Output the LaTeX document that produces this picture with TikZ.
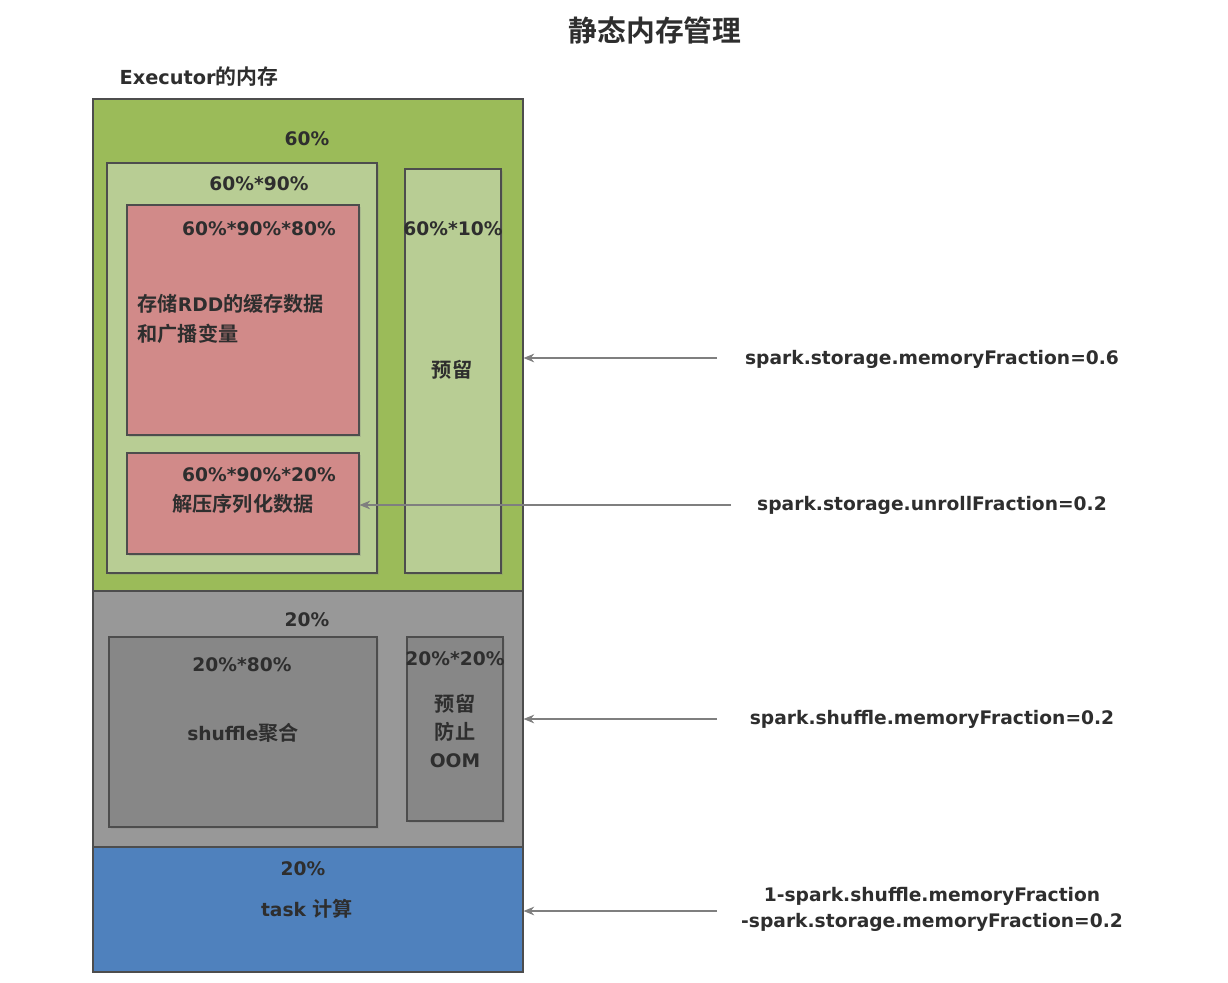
\documentclass[tikz,border=0pt]{standalone}
\usepackage{fontspec}
\setmainfont{DejaVu Sans}
\newfontfamily\cjk{Noto Sans CJK SC}[BoldFont={Noto Sans CJK SC Bold},Scale=1.08]
\usetikzlibrary{arrows.meta,shadows}
\definecolor{execgreen}{HTML}{9BBB59}
\definecolor{palegreen}{HTML}{B8CD94}
\definecolor{rosered}{HTML}{D18A89}
\definecolor{midgray}{HTML}{989898}
\definecolor{darkgray}{HTML}{878787}
\definecolor{taskblue}{HTML}{4F81BD}
\definecolor{inkgray}{HTML}{2E2E2E}
\definecolor{arrowgray}{HTML}{7F7F7F}
\tikzset{
  membox/.style={draw=inkgray!85, line width=0.8pt, inner sep=0pt},
  subbox/.style={membox, drop shadow={shadow xshift=1.2pt, shadow yshift=-1.2pt, opacity=0.25}},
  lbl/.style={text=inkgray, inner sep=1pt},
  fraction/.style={lbl, align=center},
  pointer/.style={-{Stealth[length=8pt,width=6.5pt]}, arrowgray, line width=0.8pt}
}
\begin{document}
\begin{tikzpicture}[x=0.75pt,y=-0.75pt,font=\bfseries\fontsize{14}{18}\selectfont]
\useasboundingbox (0,0) rectangle (1228,982);
%1. 标题
\node[lbl, font=\bfseries\fontsize{20}{24}\selectfont] (title) at (655,30) {\cjk 静态内存管理};
\node[lbl, anchor=west, font=\bfseries\fontsize{14.5}{17}\selectfont] (execlbl) at (118,77) {Executor{\cjk 的内存}};
%2. 三个大区域
\node[membox, fill=execgreen, minimum width=322.5pt, minimum height=369pt] (storage) at (308,345) {};
\node[membox, fill=midgray, minimum width=322.5pt, minimum height=192pt] (shuffle) at (308,719) {};
\node[membox, fill=taskblue, minimum width=322.5pt, minimum height=93.75pt] (task) at (308,909.5) {};
%3. storage 内部
\node[subbox, fill=palegreen, minimum width=202.5pt, minimum height=307.5pt] (safe) at (242,368) {};
\node[subbox, fill=rosered, minimum width=174pt, minimum height=172.5pt] (cache) at (243,320) {};
\node[subbox, fill=rosered, minimum width=174pt, minimum height=75.75pt] (unroll) at (243,503.5) {};
\node[subbox, fill=palegreen, minimum width=72pt, minimum height=303pt] (reserve) at (453,371) {};
%4. shuffle 内部
\node[subbox, fill=darkgray, minimum width=201pt, minimum height=142.5pt] (agg) at (243,732) {};
\node[subbox, fill=darkgray, minimum width=72pt, minimum height=138pt] (oom) at (455,729) {};
%5. 文字
\node[lbl] (p60) at (307,139) {60\%};
\node[lbl] (p6090) at (259,184) {60\%*90\%};
\node[lbl] (p609080) at (259,229) {60\%*90\%*80\%};
\node[lbl, anchor=west, align=left, font=\bfseries\fontsize{14}{22.5}\selectfont] (cachetxt) at (136,319) {{\cjk 存储}RDD{\cjk 的缓存数据}\\{\cjk 和广播变量}};
\node[lbl] (p609020) at (259,475) {60\%*90\%*20\%};
\node[lbl] (unrolltxt) at (243,504) {\cjk 解压序列化数据};
\node[lbl] (p6010) at (453,229) {60\%*10\%};
\node[lbl] (reservetxt) at (452,370) {\cjk 预留};
\node[lbl] (p20a) at (307,620) {20\%};
\node[lbl] (p2080) at (242,665) {20\%*80\%};
\node[lbl] (aggtxt) at (243,733) {shuffle{\cjk 聚合}};
\node[lbl] (p2020) at (455,659) {20\%*20\%};
\node[lbl, align=center, font=\bfseries\fontsize{14}{21}\selectfont] (oomtxt) at (455,731) {{\cjk 预留}\\{\cjk 防止}\\OOM};
\node[lbl] (p20b) at (303,869) {20\%};
\node[lbl] (tasktxt) at (307,909) {task {\cjk 计算}};
%6. 参数与箭头
\node[fraction] (fstore) at (932,359) {spark.storage.memoryFraction=0.6};
\node[fraction] (funroll) at (932,505) {spark.storage.unrollFraction=0.2};
\node[fraction] (fshuffle) at (932,719) {spark.shuffle.memoryFraction=0.2};
\node[fraction, font=\bfseries\fontsize{14}{19.5}\selectfont] (ftask) at (932,909) {1-spark.shuffle.memoryFraction\\-spark.storage.memoryFraction=0.2};
\coordinate (sstore) at (717,358);
\coordinate (sunroll) at (731,505);
\coordinate (sshuffle) at (717,719);
\coordinate (stask) at (717,911);
\draw[pointer] (sstore) -- (sstore -| storage.east);
\draw[pointer] (sunroll) -- (sunroll -| unroll.east);
\draw[pointer] (sshuffle) -- (sshuffle -| shuffle.east);
\draw[pointer] (stask) -- (stask -| task.east);
\end{tikzpicture}
\end{document}
